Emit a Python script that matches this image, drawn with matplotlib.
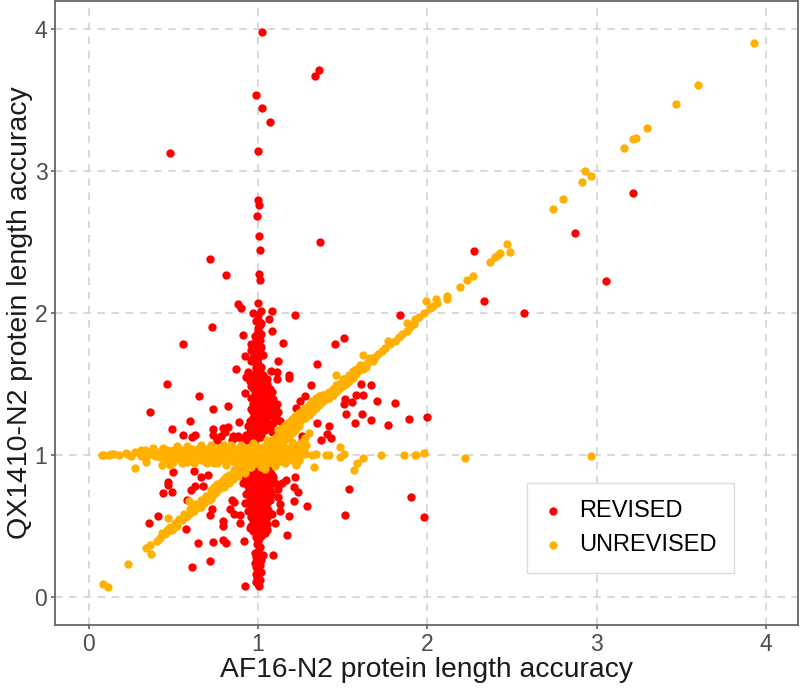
import numpy as np
import matplotlib
matplotlib.use("Agg")
import matplotlib.pyplot as plt

plt.rcParams['font.family'] = ['Liberation Sans', 'DejaVu Sans']

# values
revised_outliers = [
    (1.025,3.98),(1.36,3.71),(1.335,3.67),(0.987,3.53),(1.026,3.44),(1.07,3.34),(1.0,3.14),(0.48,3.125),
    (1.0,2.795),(1.005,2.76),(0.995,2.68),(1.005,2.54),(1.01,2.44),(1.365,2.495),(0.713,2.375),(0.81,2.265),
    (1.005,2.27),(1.01,2.23),(2.275,2.435),(2.337,2.085),(2.57,1.995),(2.875,2.56),(3.055,2.226),(3.215,2.84),
]
revised_upper = [
    (0.88,2.06),(0.90,2.03),(1.0,2.07),(0.97,2.0),(1.02,2.01),(1.08,2.01),(1.22,1.98),(1.84,1.98),(1.065,1.955),
    (0.73,1.90),(1.01,1.91),(1.0,1.87),(1.08,1.87),(0.91,1.84),(0.98,1.835),(0.555,1.78),(1.01,1.81),(1.145,1.785),
    (1.51,1.82),(1.455,1.78),(0.96,1.74),(1.01,1.74),(0.925,1.695),(0.99,1.70),(0.96,1.66),(1.12,1.66),(1.35,1.64),
    (0.87,1.60),(1.02,1.62),(1.077,1.59),(1.11,1.58),(0.94,1.58),(0.93,1.545),(1.18,1.56),(1.185,1.54),(1.11,1.53),
    (1.0,1.56),(1.0,1.51),(0.46,1.50),(1.055,1.50),(1.31,1.49),(1.61,1.50),(1.67,1.49),(0.96,1.485),(1.02,1.475),
    (1.07,1.46),(0.925,1.435),(1.0,1.455),(1.275,1.41),(0.65,1.41),(1.58,1.42),(1.62,1.42),(1.515,1.39),(1.555,1.37),
    (1.51,1.36),(1.70,1.38),(1.81,1.365),(1.245,1.38),(1.09,1.395),(1.03,1.385),(0.99,1.395),(0.36,1.30),(0.735,1.32),
    (0.82,1.34),(1.225,1.33),(1.10,1.325),(0.97,1.30),(1.03,1.30),(1.52,1.285),(1.615,1.285),(1.89,1.25),(2.0,1.265),
    (0.60,1.24),(1.67,1.245),(1.57,1.225),(1.77,1.21),(0.89,1.23),(0.99,1.245),(1.11,1.25),(1.35,1.22),(1.42,1.205),
    (0.82,1.195),(0.79,1.185),(0.97,1.20),(1.03,1.21),(0.49,1.18),(0.735,1.18),(0.805,1.16),(0.555,1.135),(0.61,1.125),
    (0.63,1.14),(0.735,1.14),(1.405,1.145),(1.43,1.12),(1.37,1.10),(1.26,1.13),(1.26,1.10),(0.845,1.10),(0.875,1.125),
    (0.915,1.115),(0.95,1.11),(1.01,1.125),(0.755,1.10),
    (1.0,1.98),(0.99,1.94),(1.02,1.93),(1.0,1.89),(1.015,1.85),(0.99,1.82),(1.0,1.78),(1.02,1.76),(0.98,1.76),
    (0.97,1.72),(1.0,1.68),(1.0,1.64),(0.99,1.60),(1.01,1.58),(0.98,1.53),(1.02,1.53),(1.04,1.48),(0.99,1.48),
    (1.05,1.43),(1.02,1.43),(0.98,1.44),(1.07,1.40),(1.01,1.40),(0.97,1.36),(1.0,1.36),(1.03,1.35),(1.07,1.35),
    (0.96,1.32),(1.0,1.32),(1.05,1.31),(0.98,1.27),(1.02,1.27),(1.06,1.27),(1.09,1.28),(0.95,1.24),(1.0,1.23),
    (1.05,1.22),(1.0,1.18),(0.95,1.16),(1.04,1.17),(0.93,1.14),(0.98,1.14),(1.02,1.14),(0.9,1.12),
    (0.98,1.17),(1.02,1.19),(1.07,1.19),(1.09,1.22),(1.03,1.25),(0.97,1.26),(1.01,1.29),(1.07,1.31),(1.03,1.33),
    (0.98,1.34),(1.05,1.38),(0.99,1.42),(1.03,1.46),(1.0,1.50),(1.03,1.51),(0.97,1.56),(1.03,1.56),(0.985,1.62),
    (1.0,1.71),(0.985,1.79),(1.0,1.84),(1.0,1.95),(0.88,1.13),(0.85,1.13),(0.93,1.10),(0.98,1.10),(0.78,1.13),
    (1.12,1.30),(1.10,1.26),(1.13,1.24),(0.94,1.20),(1.08,1.16),(0.96,1.40),(1.08,1.44),(1.11,1.36),(1.06,1.47),
    (0.97,1.47),(1.05,1.53),(0.95,1.52),(0.97,1.68),(1.03,1.70),(0.96,1.78),
]
revised_lower = [
    (0.495,0.875),(0.62,0.885),(0.465,0.81),(0.47,0.785),(0.44,0.73),(0.49,0.74),(0.665,0.845),(0.705,0.855),
    (0.675,0.78),(0.625,0.78),(0.605,0.75),(0.91,0.80),(0.58,0.68),(1.535,0.76),(1.905,0.705),(1.515,0.575),(1.98,0.56),
    (1.22,0.84),(1.165,0.82),(1.21,0.775),(1.235,0.735),(1.12,0.70),(1.21,0.675),(1.29,0.64),(0.845,0.68),(0.86,0.665),
    (0.835,0.615),(0.855,0.585),(0.895,0.575),(0.725,0.615),(0.715,0.575),(1.13,0.60),(1.18,0.57),(1.10,0.52),
    (0.795,0.53),(0.795,0.50),(0.895,0.515),(0.41,0.565),(0.355,0.515),(0.575,0.475),(1.17,0.435),(0.645,0.38),
    (0.735,0.385),(0.79,0.40),(0.81,0.38),(0.915,0.395),(0.61,0.205),(0.715,0.25),(0.925,0.075),(1.09,0.29),
    (1.14,0.80),(1.12,0.76),(1.08,0.86),(1.06,0.90),(1.13,0.65),
    (0.93,0.88),(0.93,0.72),(0.92,0.66),(0.94,0.60),(1.08,0.72),(1.07,0.68),(1.09,0.84),(1.10,0.80),(1.08,0.58),
]
revised_trunk = [
    (1.0,0.09),(1.005,0.075),(0.99,0.10),(1.01,0.115),(0.995,0.13),(1.0,0.15),(0.985,0.16),(1.015,0.17),(1.0,0.19),
    (0.99,0.21),(1.01,0.22),(0.98,0.24),(1.0,0.25),(1.02,0.26),(0.985,0.28),(1.005,0.29),(1.03,0.29),(0.98,0.31),
    (1.0,0.32),(1.01,0.35),(0.995,0.37),(1.0,0.39),(1.005,0.41),(0.985,0.42),(1.02,0.43),(0.99,0.45),(1.01,0.46),
    (0.97,0.46),(1.04,0.45),(0.95,0.48),(0.985,0.48),(1.02,0.48),(1.05,0.47),(0.96,0.50),(1.0,0.50),(1.03,0.50),
    (0.98,0.52),(1.01,0.52),(1.05,0.51),(0.97,0.54),(1.0,0.54),(1.03,0.54),(0.96,0.56),(0.99,0.56),(1.02,0.56),
    (1.05,0.56),(0.97,0.58),(1.0,0.58),(1.04,0.58),(0.96,0.60),(0.99,0.60),(1.02,0.60),(0.97,0.62),(1.0,0.62),
    (1.03,0.62),(1.06,0.61),(0.95,0.64),(0.98,0.64),(1.01,0.64),(1.04,0.64),(0.96,0.66),(0.99,0.66),(1.02,0.66),
    (1.05,0.66),(0.95,0.68),(0.98,0.68),(1.01,0.68),(1.04,0.68),(0.96,0.70),(0.99,0.70),(1.02,0.70),(1.05,0.70),
    (0.95,0.72),(0.98,0.72),(1.01,0.72),(1.04,0.72),(0.94,0.74),(0.97,0.74),(1.0,0.74),(1.03,0.74),(1.06,0.74),
    (0.95,0.76),(0.98,0.76),(1.01,0.76),(1.04,0.76),(1.07,0.76),(0.94,0.78),(0.97,0.78),(1.0,0.78),(1.03,0.78),
    (1.06,0.78),(0.96,0.80),(0.99,0.80),(1.02,0.80),(1.05,0.80),(1.08,0.80),(0.95,0.82),(0.98,0.82),(1.01,0.82),
    (1.04,0.82),(1.07,0.82),(0.94,0.84),(0.97,0.84),(1.0,0.84),(1.03,0.84),(1.06,0.84),(0.92,0.84),(0.96,0.86),
    (0.99,0.86),(1.02,0.86),(1.05,0.86),(0.98,0.88),(1.01,0.88),(1.04,0.88),(1.07,0.88),(1.0,0.90),(1.03,0.90),
]
unrevised_diag = [
    (0.085,0.09),(0.115,0.07),(0.23,0.23),(0.37,0.30),(0.34,0.34),(0.36,0.365),(0.47,0.555),(0.59,0.675),(1.46,1.56),
    (1.62,1.705),(0.40,0.39),(0.42,0.41),(0.45,0.44),(0.46,0.47),(0.48,0.49),(0.47,0.46),(0.50,0.48),(0.51,0.52),
    (0.52,0.50),(0.54,0.55),(0.55,0.54),(0.57,0.56),(0.58,0.57),(0.60,0.59),(0.62,0.60),(0.61,0.63),(0.63,0.62),
    (0.65,0.63),(0.66,0.65),(0.68,0.66),(0.66,0.68),(0.70,0.70),(0.71,0.68),(0.73,0.72),(0.72,0.75),(0.75,0.74),
    (0.74,0.77),(0.77,0.76),(0.76,0.79),(0.79,0.78),(0.78,0.81),(0.80,0.80),(0.81,0.84),(0.82,0.82),(0.84,0.83),
    (0.83,0.86),(0.85,0.87),(0.86,0.85),(0.88,0.87),(0.87,0.89),(0.89,0.91),(0.90,0.89),(0.92,0.90),(0.93,0.93),
    (0.91,0.93),(0.95,0.94),(0.94,0.96),(0.97,0.96),(0.96,0.98),(0.99,0.98),(1.01,1.0),(1.0,1.02),(1.03,1.01),
    (1.02,1.04),(1.05,1.03),(1.04,1.06),(1.07,1.05),(1.06,1.08),(1.09,1.07),(1.08,1.10),(1.11,1.09),(1.10,1.12),
    (1.13,1.11),(1.12,1.14),(1.15,1.13),(1.14,1.16),(1.17,1.15),(1.16,1.18),(1.19,1.17),(1.18,1.20),(1.21,1.19),
    (1.20,1.22),(1.23,1.21),(1.22,1.24),(1.25,1.24),(1.24,1.27),(1.27,1.26),(1.26,1.29),(1.29,1.28),(1.28,1.31),
    (1.31,1.30),(1.30,1.33),(1.33,1.32),(1.32,1.35),(1.35,1.35),(1.34,1.37),(1.37,1.37),(1.39,1.39),(1.41,1.41),
    (1.40,1.43),(1.43,1.43),(1.45,1.45),(1.47,1.47),(1.46,1.49),(1.49,1.49),(1.51,1.51),(1.50,1.53),(1.53,1.53),
    (1.55,1.55),(1.57,1.57),(1.56,1.59),(1.59,1.59),(1.61,1.61),(1.63,1.63),(1.65,1.65),(1.67,1.67),(1.69,1.69),
    (1.71,1.71),(1.73,1.73),(1.75,1.75),(1.78,1.78),(1.77,1.80),(1.81,1.80),(1.83,1.83),(1.85,1.85),(1.88,1.87),
    (1.88,1.93),(1.90,1.90),(1.92,1.92),(1.93,1.955),(1.95,1.97),(1.98,2.0),(2.015,2.03),(2.035,2.05),(2.055,2.07),
    (2.05,2.095),(1.99,2.08),(2.115,2.12),(2.115,2.095),(2.19,2.18),(2.235,2.228),(2.27,2.26),(2.37,2.36),(2.40,2.39),
    (2.415,2.405),(2.43,2.42),(2.47,2.48),(2.49,2.43),(2.74,2.73),(2.80,2.80),(2.915,2.92),(2.93,3.0),(2.965,2.965),
    (3.16,3.16),(3.215,3.22),(3.23,3.23),(3.30,3.30),(3.47,3.47),(3.60,3.60),(3.93,3.90),
]
# thick part of the diagonal, both sides of the line
unrevised_diag_wide = [
    (0.43,0.45),(0.49,0.47),(0.53,0.55),(0.56,0.58),(0.60,0.62),(0.63,0.65),(0.66,0.63),(0.69,0.71),(0.72,0.69),
    (0.74,0.72),(0.77,0.79),(0.80,0.77),(0.80,0.83),(0.83,0.80),(0.85,0.83),(0.86,0.89),(0.88,0.85),(0.90,0.93),
    (0.92,0.87),(0.94,0.91),(1.08,1.03),(1.10,1.05),(1.12,1.07),(1.14,1.09),(1.16,1.11),(1.18,1.13),(1.20,1.15),
    (1.22,1.17),(1.24,1.20),(1.12,1.17),(1.14,1.19),(1.16,1.21),(1.18,1.23),(1.20,1.25),(1.22,1.27),(1.24,1.23),
    (1.26,1.25),(1.24,1.29),(1.26,1.31),(1.28,1.33),(1.28,1.26),(1.30,1.28),(1.30,1.35),(1.32,1.38),(1.32,1.30),
    (1.34,1.33),(1.34,1.40),(1.36,1.35),(1.36,1.41),(1.38,1.37),(1.38,1.42),(1.40,1.39),(1.42,1.44),(1.42,1.40),
    (1.44,1.46),(1.44,1.42),(1.46,1.44),(1.48,1.50),(1.48,1.46),(1.50,1.48),(1.52,1.54),(1.52,1.50),(1.54,1.52),
    (1.54,1.56),(1.56,1.54),(1.58,1.60),(1.58,1.57),(1.60,1.63),(1.62,1.60),(1.64,1.62),(1.66,1.68),(1.68,1.66),
]
unrevised_horiz = [
    (0.08,0.995),(0.09,0.995),(0.12,1.0),(0.13,1.005),(0.15,1.005),(0.18,1.0),(0.22,1.01),(0.24,1.0),(0.25,0.99),
    (0.27,1.02),(0.27,0.905),(0.31,1.03),(0.31,0.99),(0.33,1.03),(0.34,0.945),(0.35,1.0),(0.38,1.03),(0.39,0.99),
    (0.41,1.02),(0.42,0.98),(0.43,0.93),(0.45,1.0),(0.46,1.03),(0.47,0.96),(0.49,0.99),(0.50,1.03),(0.48,0.93),
    (0.52,1.0),(0.53,1.04),(0.54,0.97),(0.56,1.0),(0.57,1.03),(0.58,0.95),(0.60,0.99),(0.61,1.04),(0.62,0.97),
    (0.64,1.0),(0.65,1.05),(0.66,0.96),(0.68,1.01),(0.69,0.95),(0.70,1.04),(0.72,0.98),(0.73,1.03),(0.74,0.94),
    (0.76,1.0),(0.77,1.05),(0.78,0.96),(0.80,1.01),(0.81,0.93),(0.82,1.05),(0.84,0.98),(0.85,1.04),(0.86,0.95),
    (0.88,1.0),(0.89,1.05),(0.90,0.96),(0.92,1.02),(0.93,0.97),(0.94,1.05),(0.96,1.0),(0.97,0.95),(0.98,1.04),
    (1.0,0.97),(1.01,1.05),(1.02,0.95),(1.04,1.0),(1.05,0.96),(1.06,1.05),(1.08,0.98),(1.09,1.02),(1.10,0.96),
    (1.12,1.0),(1.13,0.97),(1.14,1.03),(1.16,0.99),(1.17,0.97),(1.18,1.02),(1.20,1.0),(1.20,0.96),(1.22,1.02),
    (1.225,0.93),(1.25,0.995),(1.28,1.005),(1.285,1.07),(1.32,1.0),(1.33,0.91),(1.345,1.005),(1.40,1.0),(1.42,0.995),
    (1.485,1.055),(1.505,1.005),(1.485,0.985),(1.565,0.895),(1.585,0.94),(1.62,0.975),(1.725,1.0),(1.86,1.0),
    (1.925,1.0),(1.935,0.995),(1.98,1.01),(2.22,0.975),(2.966,0.99),
]
# solid middle where the two arms meet
unrevised_blob = [
    (0.32,1.0),(0.36,1.01),(0.40,1.0),(0.44,1.02),(0.44,0.98),(0.47,1.0),(0.51,0.98),(0.51,1.02),(0.55,1.02),
    (0.55,0.98),(0.59,1.01),(0.59,0.97),(0.63,1.02),(0.63,0.98),(0.67,1.03),(0.67,0.98),(0.71,1.01),(0.71,0.97),
    (0.75,1.03),(0.75,0.97),(0.79,1.03),(0.79,0.98),(0.83,1.02),(0.83,0.96),(0.87,1.03),(0.87,0.97),(0.90,1.0),
    (0.91,1.04),(0.93,0.94),(0.95,1.03),(0.95,0.97),(0.99,1.0),(0.99,0.94),(0.99,1.06),(1.02,0.98),(1.02,1.02),
    (1.03,0.93),(1.05,1.0),(1.06,0.94),(1.06,1.07),(1.08,1.0),(1.09,0.95),(1.09,1.04),(1.11,1.0),(1.12,0.95),
    (1.12,1.05),(1.14,1.0),(1.15,0.96),(1.15,1.07),(1.18,0.98),(1.18,1.05),(1.21,1.03),(1.24,1.04),(1.24,1.0),
    (1.23,1.07),(1.27,1.03),(1.26,1.09),(1.16,1.04),(1.20,1.09),(1.05,1.10),(1.02,0.91),(0.94,0.93),(0.96,0.91),
    (0.38,1.05),(0.44,1.05),(0.50,0.95),(0.52,1.06),(0.55,0.94),(0.58,1.06),(0.62,0.94),(0.66,1.07),(0.70,0.94),
    (0.72,1.07),(0.76,0.94),(0.80,1.07),(0.84,1.07),(0.88,0.93),(0.90,1.07),(0.97,1.08),(1.28,1.12),(1.30,1.15),
    (1.24,0.96),(1.16,0.94),(1.10,0.92),(1.04,0.90),
]

rev = np.array(revised_outliers + revised_upper + revised_lower + revised_trunk)
unrev = np.array(unrevised_diag + unrevised_diag_wide + unrevised_horiz + unrevised_blob)

fig = plt.figure(figsize=(8.0, 6.91), dpi=100)
ax = fig.add_axes([55/800, (691-625)/691, 743/800, 624/691])

ax.scatter(rev[:, 0], rev[:, 1], s=36, c="#FF0000", linewidths=0, label="REVISED", zorder=3)
ax.scatter(unrev[:, 0], unrev[:, 1], s=36, c="#FFB000", linewidths=0, label="UNREVISED", zorder=4)

ax.set_xlim(-0.2, 4.19)
ax.set_ylim(-0.2, 4.195)
ax.set_xticks([0, 1, 2, 3, 4])
ax.set_yticks([0, 1, 2, 3, 4])
ax.grid(True, color="#D2D2D2", linestyle=(0, (4.5, 4)), linewidth=1.2)
ax.set_axisbelow(True)
for s in ax.spines.values():
    s.set_color("#666666")
    s.set_linewidth(1.3)
ax.tick_params(color="#555555", labelcolor="#4D4D4D", labelsize=16.5, length=3, width=1.1, pad=2.5)
ax.set_xlabel("AF16-N2 protein length accuracy", fontsize=20.3, color="#1A1A1A", labelpad=1)
ax.set_ylabel("QX1410-N2 protein length accuracy", fontsize=20.5, color="#1A1A1A", labelpad=1)

leg = ax.legend(loc="lower left", bbox_to_anchor=(472/743, 52/624), fontsize=17, frameon=True,
                fancybox=False, framealpha=1, edgecolor="#DCDCDC", borderpad=0.72, labelspacing=0.5,
                handlelength=0.75, handletextpad=0.75, borderaxespad=0, scatterpoints=1)
leg.get_frame().set_linewidth(1.0)
leg.set_zorder(5)

fig.savefig("out.png", dpi=100)
